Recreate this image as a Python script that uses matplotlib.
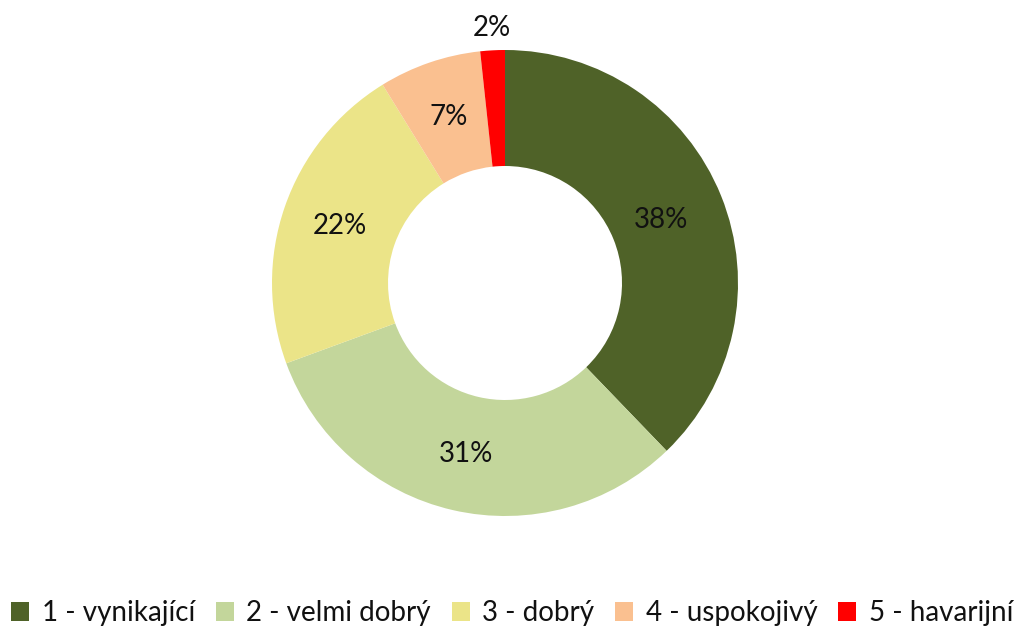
import matplotlib
matplotlib.use("Agg")
import matplotlib.pyplot as plt
import numpy as np

# ratings share
categorie = ["1 - vynikající", "2 - velmi dobrý", "3 - dobrý", "4 - uspokojivý", "5 - havarijní"]
hodnoty = [37.8, 31.6, 21.8, 7.1, 1.7]
popisky = ["38%", "31%", "22%", "7%", "2%"]
barvy = ["#4F6228", "#C3D69B", "#EBE488", "#FAC090", "#FF0000"]

plt.rcParams['font.family'] = ['Lato', 'DejaVu Sans']

fig = plt.figure(figsize=(10.14, 6.32), dpi=100)
ax = fig.add_axes([0, 0, 1, 1])

wedges, _ = ax.pie(hodnoty, colors=barvy, startangle=90, counterclock=False,
                   center=(505, 349), radius=233,
                   wedgeprops=dict(width=116, edgecolor="none"))

# label positions: mid-angle of each wedge, at ring middle (small one outside)
cum = np.cumsum([0] + hodnoty)
for i, txt in enumerate(popisky):
    mid = (cum[i] + cum[i + 1]) / 2 / sum(hodnoty) * 2 * np.pi
    r = 175 if i < 4 else 255
    if i == 0:
        r = 168
    x = 505 + r * np.sin(mid)
    y = 349 + r * np.cos(mid)
    ax.text(x, y, txt, ha="center", va="center", fontsize=20, color="#111111")

ax.set_xlim(0, 1014)
ax.set_ylim(0, 632)
ax.set_aspect("equal")
ax.axis("off")

leg = ax.legend(wedges, categorie, loc="center", bbox_to_anchor=(0.505, 0.03),
                ncol=5, frameon=False, fontsize=20, handlelength=0.65, handleheight=0.65,
                handletextpad=0.45, columnspacing=0.75, labelcolor="#111111")

fig.savefig("out.png", dpi=100, facecolor="white")
